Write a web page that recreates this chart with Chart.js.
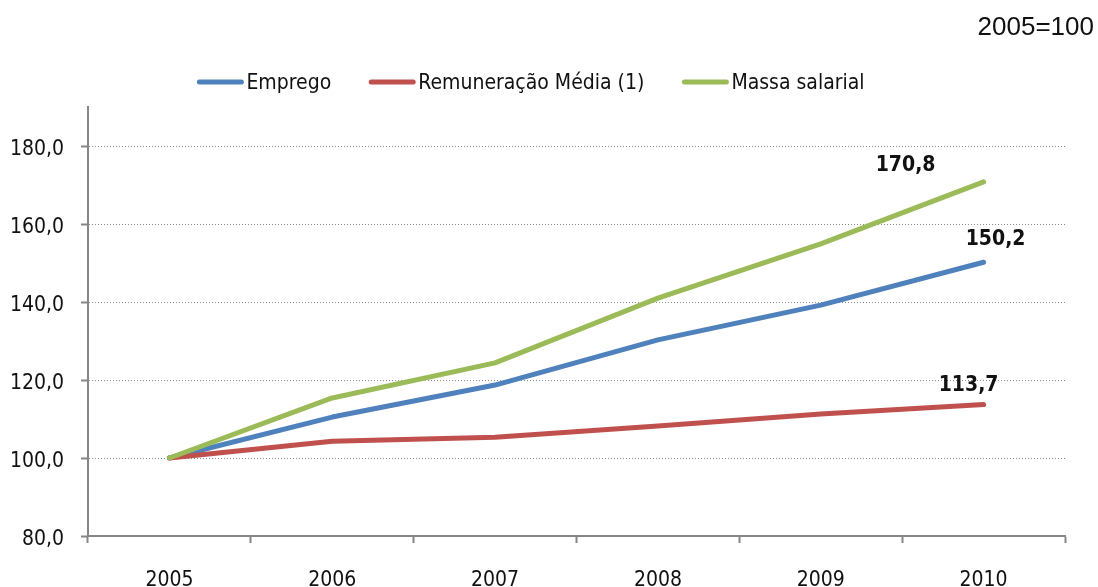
<!DOCTYPE html>
<html>
<head>
<meta charset="utf-8">
<script src="https://cdn.jsdelivr.net/npm/chart.js@4.4.0/dist/chart.umd.min.js"></script>
<style>
html,body{margin:0;padding:0;background:#fff;}
#wrap{width:1098px;height:587px;position:relative;}
</style>
</head>
<body>
<div id="wrap"><canvas id="c" width="1098" height="587"></canvas></div>
<script>
const categories = ['2005','2006','2007','2008','2009','2010'];
const seriesNames = ['Emprego','Remuneração Média (1)','Massa salarial'];
const emprego = [100.0, 110.5, 118.7, 130.3, 139.2, 150.2];
const remuneracao = [100.0, 104.3, 105.3, 108.2, 111.3, 113.7];
const massa = [100.0, 115.4, 124.4, 141.0, 154.9, 170.8];
const yTicks = [80, 100, 120, 140, 160, 180];
const subtitle = '2005=100';

const colors = ['#4F81BD', '#C0504D', '#9BBB59'];
const labelOffsets = [[12, -23], [-15, -19], [-78, -16]];
const NARROW = '"Liberation Sans Narrow", "DejaVu Sans Condensed", "Arial Narrow", sans-serif';

const fmt = v => v.toFixed(1).replace('.', ',');

const extras = {
  id: 'extras',
  afterDatasetsDraw(chart) {
    const ctx = chart.ctx;
    ctx.save();
    ctx.font = 'bold 21px ' + NARROW;
    ctx.fillStyle = '#111';
    ctx.textAlign = 'center';
    ctx.textBaseline = 'middle';
    chart.data.datasets.forEach((ds, i) => {
      const meta = chart.getDatasetMeta(i);
      const last = meta.data[meta.data.length - 1];
      const off = labelOffsets[i];
      ctx.fillText(fmt(ds.data[ds.data.length - 1]), last.x + off[0], last.y + off[1]);
    });
    ctx.font = '26px "Liberation Sans", Arial, sans-serif';
    ctx.textAlign = 'right';
    ctx.fillText(subtitle, 1094, 28);
    ctx.font = '21px ' + NARROW;
    ctx.textAlign = 'left';
    const lineW = 46, gapText = 3, gapItem = 38;
    const widths = seriesNames.map(n => lineW + gapText + ctx.measureText(n).width);
    const total = widths.reduce((a, b) => a + b, 0) + gapItem * (seriesNames.length - 1);
    let x = 531 - total / 2;
    const y = 82;
    seriesNames.forEach((n, i) => {
      ctx.strokeStyle = colors[i];
      ctx.lineWidth = 5;
      ctx.lineCap = 'round';
      ctx.beginPath();
      ctx.moveTo(x + 2, y);
      ctx.lineTo(x + lineW - 2, y);
      ctx.stroke();
      ctx.fillStyle = '#111';
      ctx.fillText(n, x + lineW + gapText, y + 2);
      x += widths[i] + gapItem;
    });
    ctx.restore();
  }
};

const mk = (i, data, order) => ({
  label: seriesNames[i],
  data: data,
  borderColor: colors[i],
  backgroundColor: colors[i],
  borderWidth: 5,
  borderCapStyle: 'round',
  borderJoinStyle: 'round',
  pointRadius: 0,
  tension: 0,
  order: order
});

new Chart(document.getElementById('c'), {
  type: 'line',
  data: {
    labels: categories,
    datasets: [mk(0, emprego, 3), mk(1, remuneracao, 2), mk(2, massa, 1)]
  },
  options: {
    responsive: false,
    animation: false,
    layout: { padding: { left: 0, right: 33, top: 107, bottom: 0 } },
    plugins: { legend: { display: false }, title: { display: false }, tooltip: { enabled: false } },
    scales: {
      x: {
        offset: true,
        grid: { offset: true, drawOnChartArea: false, drawTicks: true, tickLength: 7, tickColor: '#868686', tickWidth: 2 },
        border: { color: '#868686', width: 2 },
        ticks: { color: '#111', font: { family: NARROW, size: 21 }, padding: 25, maxRotation: 0 },
        afterFit(s) { s.height = 51; }
      },
      y: {
        min: 80,
        max: 190,
        afterBuildTicks(s) { s.ticks = yTicks.map(v => ({ value: v })); },
        grid: { color: '#8a8a8a', lineWidth: 1, tickLength: 7, tickColor: '#868686', tickWidth: 2, tickBorderDash: [] },
        border: { color: '#868686', width: 2, dash: [1, 2] },
        ticks: { color: '#111', font: { family: NARROW, size: 21 }, padding: 17, labelOffset: 4, callback: v => fmt(v) },
        afterFit(s) { s.width = 88; }
      }
    }
  },
  plugins: [extras]
});
</script>
</body>
</html>
